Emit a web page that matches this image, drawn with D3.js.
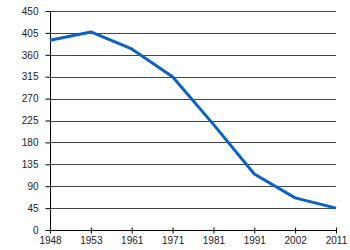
<!DOCTYPE html>
<html>
<head>
<meta charset="utf-8">
<script src="https://cdn.jsdelivr.net/npm/d3@7"></script>
<style>
  body { margin: 0; background: #fff; }
  text { font-family: "Liberation Sans", Arial, sans-serif; font-size: 10px; fill: #222; }
</style>
</head>
<body>
<div id="chart"></div>
<script>
var years = ["1948", "1953", "1961", "1971", "1981", "1991", "2002", "2011"];
var values = [390, 407, 372, 315, 217, 115, 66, 45];
var yTicks = [0, 45, 90, 135, 180, 225, 270, 315, 360, 405, 450];

var width = 350,
  height = 250,
  margin = {top: 11, right: 14, bottom: 20, left: 50};

var svg = d3.select("#chart").append("svg")
  .attr("width", width)
  .attr("height", height);

var x = d3.scalePoint()
  .domain(years)
  .range([margin.left, width - margin.right]);

var y = d3.scaleLinear()
  .domain([0, 450])
  .range([height - margin.bottom, margin.top]);

// horizontal grid
svg.append("g")
  .selectAll("line")
  .data(yTicks.slice(1))
  .enter().append("line")
  .attr("x1", margin.left)
  .attr("x2", width - margin.right)
  .attr("y1", function(d) { return Math.round(y(d)) + 0.5; })
  .attr("y2", function(d) { return Math.round(y(d)) + 0.5; })
  .style("stroke", "#444")
  .style("stroke-width", 1);

// y axis
var yAxis = svg.append("g")
  .attr("transform", "translate(" + (margin.left + 0.5) + ",0)")
  .call(d3.axisLeft(y).tickValues(yTicks).tickSize(5).tickPadding(7).tickFormat(d3.format("d")));
yAxis.select(".domain").attr("d", "M0," + y(0) + "V" + margin.top).style("stroke", "#000");
yAxis.selectAll(".tick line").style("stroke", "#000");
yAxis.selectAll(".tick text").style("font-family", "Liberation Sans, Arial, sans-serif").style("font-size", "10px").style("fill", "#222");

// x axis
var xAxis = svg.append("g")
  .attr("transform", "translate(0," + (Math.round(y(0)) + 0.5) + ")")
  .call(d3.axisBottom(x).tickSize(3).tickPadding(3));
xAxis.select(".domain").attr("d", "M" + margin.left + ",0H" + (width - margin.right)).style("stroke", "#000");
xAxis.selectAll(".tick line").attr("y1", -3).style("stroke", "#000");
xAxis.selectAll(".tick text").style("font-family", "Liberation Sans, Arial, sans-serif").style("font-size", "10px").style("fill", "#222");

// data line
var line = d3.line()
  .x(function(d, i) { return x(years[i]); })
  .y(function(d) { return y(d); });

svg.append("path")
  .datum(values)
  .attr("d", line)
  .style("fill", "none")
  .style("stroke", "#0a62c2")
  .style("stroke-width", 3)
  .style("stroke-linejoin", "round");
</script>
</body>
</html>
